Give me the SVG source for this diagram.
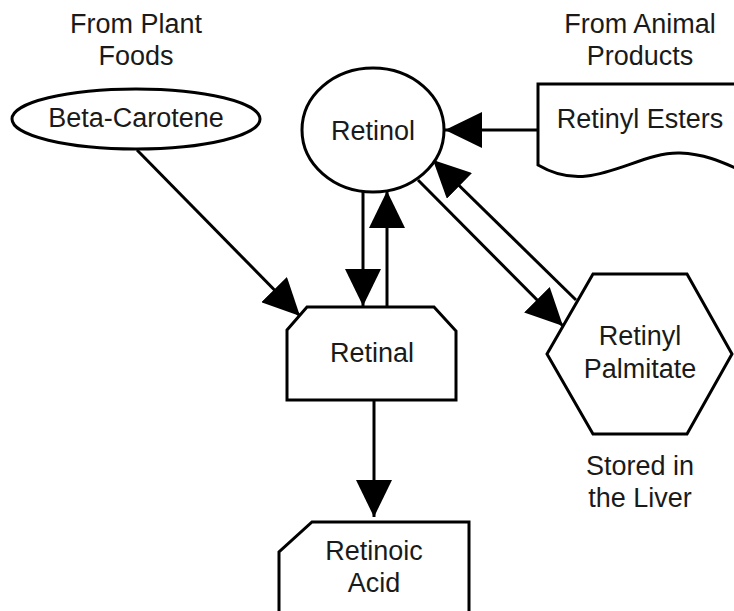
<svg xmlns="http://www.w3.org/2000/svg" width="734" height="611" viewBox="0 0 734 611">
<defs>
<style>
.s{fill:#fff;stroke:#000;stroke-width:3;stroke-linejoin:miter}
.c{fill:none;stroke:#000;stroke-width:3}
text{font-family:"Liberation Sans",Arial,sans-serif;font-size:27px;fill:#1a1a1a;text-anchor:middle}
</style>
<marker id="ah" markerUnits="userSpaceOnUse" markerWidth="38" markerHeight="36" refX="37" refY="18" orient="auto" viewBox="0 0 38 36">
<path d="M0,0 L37,18 L0,36 Z" fill="#000"/>
</marker>
</defs>
<rect width="734" height="611" fill="#fff"/>
<g id="label-plant"><text x="136" y="33">From Plant</text><text x="136" y="65">Foods</text></g>
<g id="label-animal"><text x="640" y="33">From Animal</text><text x="640" y="65">Products</text></g>
<g id="label-liver"><text x="640" y="475">Stored in</text><text x="640" y="507">the Liver</text></g>
<g id="connectors">
<line class="c" x1="137" y1="150" x2="300" y2="316" marker-end="url(#ah)"/>
<line class="c" x1="538" y1="130" x2="445" y2="130" marker-end="url(#ah)"/>
<line class="c" x1="363" y1="191" x2="363" y2="306" marker-end="url(#ah)"/>
<line class="c" x1="387" y1="306" x2="387" y2="191" marker-end="url(#ah)"/>
<line class="c" x1="418" y1="180" x2="563" y2="326" marker-end="url(#ah)"/>
<line class="c" x1="576" y1="300" x2="433" y2="160" marker-end="url(#ah)"/>
<line class="c" x1="374" y1="400" x2="374" y2="517" marker-end="url(#ah)"/>
</g>
<g id="beta-carotene"><ellipse class="s" cx="136" cy="119" rx="124" ry="30"/><text x="136" y="127">Beta-Carotene</text></g>
<g id="retinol"><ellipse class="s" cx="373" cy="130" rx="71" ry="62"/><text x="373" y="140">Retinol</text></g>
<g id="retinyl-esters"><path class="s" d="M538,84 L740,84 L740,170 C722,162 705,154 680,153 C650,152 620,172 587,176 C570,178 555,175 538,165 Z"/><text x="640" y="128">Retinyl Esters</text></g>
<g id="retinal"><path class="s" d="M287,330 L307,307 L434,307 L456,331 L456,400 L287,400 Z"/><text x="372" y="362">Retinal</text></g>
<g id="retinyl-palmitate"><polygon class="s" points="547,354 593,274 687,274 732,354 687,434 593,434"/><text x="640" y="345">Retinyl</text><text x="640" y="378">Palmitate</text></g>
<g id="retinoic-acid"><path class="s" d="M279,620 L279,552 L312,522 L469,522 L469,620"/><text x="374" y="560">Retinoic</text><text x="374" y="592">Acid</text></g>
</svg>
